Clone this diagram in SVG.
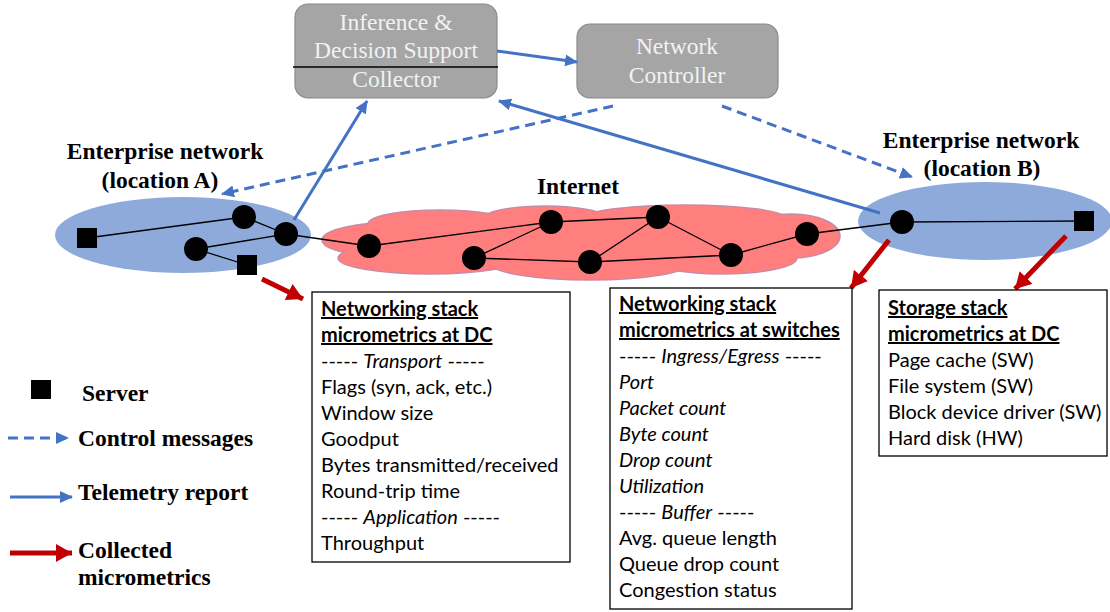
<svg xmlns="http://www.w3.org/2000/svg" width="1110" height="612" viewBox="0 0 1110 612">
<style>
.lbl{font-family:"Liberation Serif","Times New Roman",serif;font-weight:bold;font-size:23.5px;fill:#000}
.btxt{font-family:"Liberation Serif","Times New Roman",serif;font-size:23.5px;fill:#f2f2f2;text-anchor:middle}
.gbox{fill:#a5a5a5;stroke:#8a8a8a;stroke-width:1.2}
.mbox{fill:#fff;stroke:#000;stroke-width:1.3}
.mt{font-family:Lato,"Liberation Sans",sans-serif;font-size:20px;fill:#000}
.hd{font-weight:bold;text-decoration:underline}
.it{font-style:italic}
.edge{stroke:#000;stroke-width:1.3;fill:none}
.node{fill:#000}
.blue{stroke:#4472c4;stroke-width:3;fill:none}
.dash{stroke-dasharray:10 6}
.red{stroke:#c00000;stroke-width:5;fill:none}
.cloud{fill:#ff7f7f}
</style>
<defs>
<marker id="bh" markerUnits="userSpaceOnUse" markerWidth="14" markerHeight="12" refX="12" refY="6" orient="auto">
<path d="M0,0 L13,6 L0,12 Z" fill="#4472c4"/>
</marker>
<marker id="rh" markerUnits="userSpaceOnUse" markerWidth="18" markerHeight="18" refX="16" refY="9" orient="auto">
<path d="M0,0 L16,9 L0,18 Z" fill="#c00000"/>
</marker>
</defs>

<!-- Enterprise A -->
<g id="enterpriseA">
<ellipse cx="183" cy="235" rx="128" ry="38" fill="#8eaadb"/>
<text class="lbl" x="165" y="159" text-anchor="middle">Enterprise network</text>
<text class="lbl" x="160" y="188" text-anchor="middle">(location A)</text>
</g>

<!-- Internet cloud -->
<g id="internet">
<g stroke="#c88aa8" stroke-width="1.5" class="cloud">
<ellipse cx="400" cy="240" rx="78" ry="18"/>
<ellipse cx="440" cy="224" rx="72" ry="14"/>
<ellipse cx="545" cy="219" rx="62" ry="13"/>
<ellipse cx="685" cy="218" rx="100" ry="13"/>
<ellipse cx="792" cy="236" rx="48" ry="22"/>
<ellipse cx="430" cy="258" rx="92" ry="16"/>
<ellipse cx="590" cy="263" rx="100" ry="17"/>
<ellipse cx="722" cy="258" rx="75" ry="16"/>
</g>
<g class="cloud">
<ellipse cx="400" cy="240" rx="77" ry="17"/>
<ellipse cx="440" cy="224" rx="71" ry="13"/>
<ellipse cx="545" cy="219" rx="61" ry="12"/>
<ellipse cx="685" cy="218" rx="99" ry="12"/>
<ellipse cx="792" cy="236" rx="47" ry="21"/>
<ellipse cx="430" cy="258" rx="91" ry="15"/>
<ellipse cx="590" cy="263" rx="99" ry="16"/>
<ellipse cx="722" cy="258" rx="74" ry="15"/>
<ellipse cx="590" cy="240" rx="205" ry="24"/>
</g>
<text class="lbl" x="578" y="194" text-anchor="middle">Internet</text>
</g>

<!-- Enterprise B -->
<g id="enterpriseB">
<ellipse cx="985" cy="221" rx="127" ry="39" fill="#8eaadb"/>
<text class="lbl" x="981" y="148" text-anchor="middle">Enterprise network</text>
<text class="lbl" x="982" y="176" text-anchor="middle">(location B)</text>
</g>

<!-- Top boxes -->
<g id="collector">
<rect class="gbox" x="295" y="4" width="202" height="94" rx="13"/>
<text class="btxt" x="396" y="30">Inference &amp;</text>
<text class="btxt" x="396" y="58">Decision Support</text>
<text class="btxt" x="396" y="87">Collector</text>
<line x1="293" y1="67" x2="498" y2="67" stroke="#000" stroke-width="1.3"/>
</g>
<g id="controller">
<rect class="gbox" x="577" y="24" width="201" height="74" rx="13"/>
<text class="btxt" x="677" y="54">Network</text>
<text class="btxt" x="677" y="83">Controller</text>
</g>

<!-- Connectors -->
<g id="connectors">
<!-- topology edges -->
<line class="edge" x1="87" y1="238" x2="244" y2="217"/>
<line class="edge" x1="244" y1="217" x2="286" y2="234"/>
<line class="edge" x1="286" y1="234" x2="196" y2="249"/>
<line class="edge" x1="196" y1="249" x2="247" y2="265"/>
<line class="edge" x1="286" y1="234" x2="369" y2="246"/>
<line class="edge" x1="369" y1="246" x2="551" y2="222"/>
<line class="edge" x1="474" y1="258" x2="551" y2="222"/>
<line class="edge" x1="474" y1="258" x2="590" y2="262"/>
<line class="edge" x1="551" y1="222" x2="658" y2="217"/>
<line class="edge" x1="590" y1="262" x2="658" y2="217"/>
<line class="edge" x1="590" y1="262" x2="731" y2="255"/>
<line class="edge" x1="658" y1="217" x2="731" y2="255"/>
<line class="edge" x1="731" y1="255" x2="807" y2="234"/>
<line class="edge" x1="807" y1="234" x2="902" y2="222"/>
<line class="edge" x1="902" y1="222" x2="1084" y2="221"/>
<!-- telemetry / control -->
<line class="blue" x1="497" y1="51" x2="577" y2="62" marker-end="url(#bh)"/>
<line class="blue" x1="294" y1="220" x2="367" y2="101" marker-end="url(#bh)"/>
<line class="blue" x1="880" y1="213" x2="499" y2="101" marker-end="url(#bh)"/>
<line class="blue dash" x1="613" y1="106" x2="222" y2="194" marker-end="url(#bh)"/>
<line class="blue dash" x1="722" y1="106" x2="912" y2="177" marker-end="url(#bh)"/>
<!-- collected micrometrics -->
<line class="red" x1="262" y1="279" x2="303" y2="299" marker-end="url(#rh)"/>
<line class="red" x1="889" y1="240" x2="851" y2="288" marker-end="url(#rh)"/>
<line class="red" x1="1066" y1="236" x2="1015" y2="289" marker-end="url(#rh)"/>
</g>

<!-- Nodes -->
<g id="nodes">
<rect class="node" x="77" y="228" width="20" height="20"/>
<rect class="node" x="237" y="255" width="20" height="20"/>
<circle class="node" cx="244" cy="217" r="12"/>
<circle class="node" cx="286" cy="234" r="12"/>
<circle class="node" cx="196" cy="249" r="12"/>
<circle class="node" cx="369" cy="246" r="12"/>
<circle class="node" cx="474" cy="258" r="12"/>
<circle class="node" cx="551" cy="222" r="12"/>
<circle class="node" cx="590" cy="262" r="12"/>
<circle class="node" cx="658" cy="217" r="12"/>
<circle class="node" cx="731" cy="255" r="12"/>
<circle class="node" cx="807" cy="234" r="12"/>
<circle class="node" cx="902" cy="222" r="12"/>
<rect class="node" x="1074" y="211" width="20" height="20"/>
</g>

<!-- Metric boxes -->
<g id="dcNetBox">
<rect class="mbox" x="312" y="292" width="258" height="270"/>
<text class="mt" x="321" y="316"><tspan class="hd">Networking stack </tspan></text>
<text class="mt" x="321" y="342"><tspan class="hd">micrometrics at DC</tspan></text>
<text class="mt" x="321" y="368">----- <tspan class="it">Transport</tspan> -----</text>
<text class="mt" x="321" y="394">Flags (syn, ack, etc.)</text>
<text class="mt" x="321" y="420">Window size</text>
<text class="mt" x="321" y="446">Goodput</text>
<text class="mt" x="321" y="472">Bytes transmitted/received</text>
<text class="mt" x="321" y="498">Round-trip time</text>
<text class="mt" x="321" y="524">----- <tspan class="it">Application</tspan> -----</text>
<text class="mt" x="321" y="550">Throughput</text>
</g>

<g id="switchBox">
<rect class="mbox" x="610" y="288" width="242" height="321"/>
<text class="mt" x="619" y="311"><tspan class="hd">Networking stack </tspan></text>
<text class="mt" x="619" y="337"><tspan class="hd">micrometrics at switches</tspan></text>
<text class="mt" x="619" y="363">----- <tspan class="it">Ingress/Egress</tspan> -----</text>
<text class="mt it" x="619" y="389">Port</text>
<text class="mt it" x="619" y="415">Packet count</text>
<text class="mt it" x="619" y="441">Byte count</text>
<text class="mt it" x="619" y="467">Drop count</text>
<text class="mt it" x="619" y="493">Utilization</text>
<text class="mt" x="619" y="519">----- <tspan class="it">Buffer</tspan> -----</text>
<text class="mt" x="619" y="545">Avg. queue length</text>
<text class="mt" x="619" y="571">Queue drop count</text>
<text class="mt" x="619" y="597">Congestion status</text>
</g>

<g id="storageBox">
<rect class="mbox" x="879" y="290" width="228" height="166"/>
<text class="mt" x="888" y="315"><tspan class="hd">Storage stack</tspan></text>
<text class="mt" x="888" y="341"><tspan class="hd">micrometrics at DC</tspan></text>
<text class="mt" x="888" y="367">Page cache (SW)</text>
<text class="mt" x="888" y="393">File system (SW)</text>
<text class="mt" x="888" y="419">Block device driver (SW)</text>
<text class="mt" x="888" y="445">Hard disk (HW)</text>
</g>

<!-- Legend -->
<g id="legend">
<rect x="31" y="380" width="20" height="19" fill="#000"/>
<text class="lbl" x="82" y="401">Server</text>
<line class="blue dash" x1="8" y1="438" x2="68" y2="438" marker-end="url(#bh)"/>
<text class="lbl" x="78" y="446">Control messages</text>
<line class="blue" x1="10" y1="497" x2="72" y2="497" marker-end="url(#bh)"/>
<text class="lbl" x="78" y="500">Telemetry report</text>
<line class="red" x1="10" y1="553" x2="72" y2="553" marker-end="url(#rh)"/>
<text class="lbl" x="78" y="558">Collected</text>
<text class="lbl" x="78" y="585">micrometrics</text>
</g>
</svg>
